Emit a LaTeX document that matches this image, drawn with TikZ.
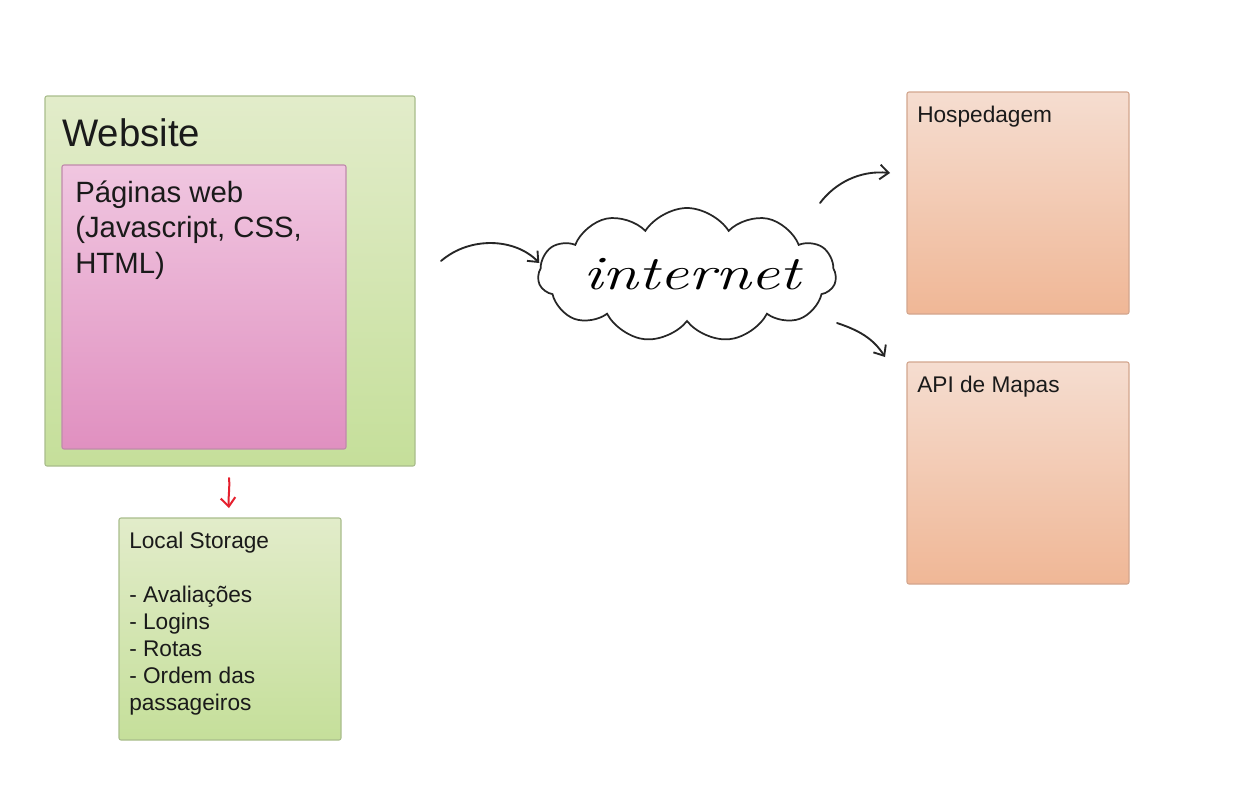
\documentclass[tikz,border=0pt]{standalone}
\usepackage{fontspec}
\setmainfont{Liberation Sans}
\newfontfamily\handfont{Latin Modern Roman}
\usepackage{graphicx}
\usetikzlibrary{shapes.symbols,arrows.meta,calc}
\definecolor{gtop}{HTML}{E2ECCA}
\definecolor{gbot}{HTML}{C5DF9A}
\definecolor{gline}{HTML}{A9BD8C}
\definecolor{ptop}{HTML}{F0C6E0}
\definecolor{pbot}{HTML}{E090C0}
\definecolor{pline}{HTML}{C08AAC}
\definecolor{otop}{HTML}{F5DDD0}
\definecolor{obot}{HTML}{F0B796}
\definecolor{oline}{HTML}{D3A68E}
\definecolor{txt}{HTML}{1A1A1A}
\definecolor{redpen}{HTML}{E5202E}
\tikzset{
  greenbox/.style={draw=gline, line width=0.8pt, rounded corners=1.5pt, top color=gtop, bottom color=gbot},
  pinkbox/.style={draw=pline, line width=0.8pt, rounded corners=1.5pt, top color=ptop, bottom color=pbot},
  orangebox/.style={draw=oline, line width=0.8pt, rounded corners=1.5pt, top color=otop, bottom color=obot},
  label/.style={anchor=north west, inner sep=0pt, align=left, text=txt},
  hand/.style={draw=black!85, line width=1.4pt, line cap=round, -{Straight Barb[length=6.5pt,width=11pt,line width=1.4pt]}},
  redhand/.style={draw=redpen, line width=1.5pt, line cap=round, -{Straight Barb[length=6.5pt,width=11pt,line width=1.5pt]}},
  cloudshape/.style={cloud, cloud puffs=11, cloud puff arc=115, aspect=2.3, draw=black!85, line width=1.3pt, minimum width=223.5pt, minimum height=100.5pt, inner sep=0pt}
}
\begin{document}
\begin{tikzpicture}[x=0.75pt,y=-0.75pt]
\useasboundingbox (0,0) rectangle (1250,811);
\fill[white] (0,0) rectangle (1250,811);

% boxes
\draw[greenbox] (45,96) rectangle (415,466);
\node[inner sep=0pt, minimum size=0pt] (web) at (230,281) {};
\draw[pinkbox] (62,165) rectangle (346,449);
\draw[greenbox] (119,518) rectangle (341,740);
\node[inner sep=0pt] (ls) at (230,629) {};
\draw[orangebox] (907,92) rectangle (1129,314);
\node[inner sep=0pt] (host) at (1018,203) {};
\draw[orangebox] (907,362) rectangle (1129,584);
\node[inner sep=0pt] (api) at (1018,473) {};

% texts
\node[label, font=\fontsize{28.8}{34}\selectfont] (tweb) at (62,118.5) {Website};
\node[label, font=\fontsize{22}{26.3}\selectfont] (tpag) at (75,181) {Páginas web\\(Javascript, CSS,\\HTML)};
\node[label, font=\fontsize{17}{20.25}\selectfont] (tls) at (129,532) {Local Storage\\[20.25pt]- Avaliações\\- Logins\\- Rotas\\- Ordem das\\passageiros};
\node[label, font=\fontsize{17}{20.25}\selectfont] (thost) at (917,106) {Hospedagem};
\node[label, font=\fontsize{17}{20.25}\selectfont] (tapi) at (917,376) {API de Mapas};

% cloud
\node[cloudshape] (net) at (687,275) {};
\node[inner sep=0pt] (tnet) at (692,274) {\handfont\itshape\fontsize{36}{40}\selectfont\scalebox{1.35}[1]{internet}};

% connectors
\coordinate (a1s) at ($(web)+(211,-20)$);
\coordinate (a1e) at ($(net.west)+(2,-12)$);
\draw[hand] (a1s) .. controls (470,236) and (515,238) .. (a1e);
\coordinate (a2s) at ($(net)+(133,-72)$);
\coordinate (a2e) at ($(host)+(-128,-30)$);
\draw[hand] (a2s) .. controls (835,183) and (860,170) .. (a2e);
\coordinate (a3s) at ($(net)+(150,48)$);
\coordinate (a3e) at ($(api)+(-133,-116)$);
\draw[hand] (a3s) .. controls (858,330) and (873,338) .. (a3e);
\coordinate (a4s) at ($(web)+(-1,197)$);
\coordinate (a4e) at ($(ls)+(-1,-121)$);
\draw[redhand] (a4s) .. controls (230,488) and (228,498) .. (a4e);
\end{tikzpicture}
\end{document}
